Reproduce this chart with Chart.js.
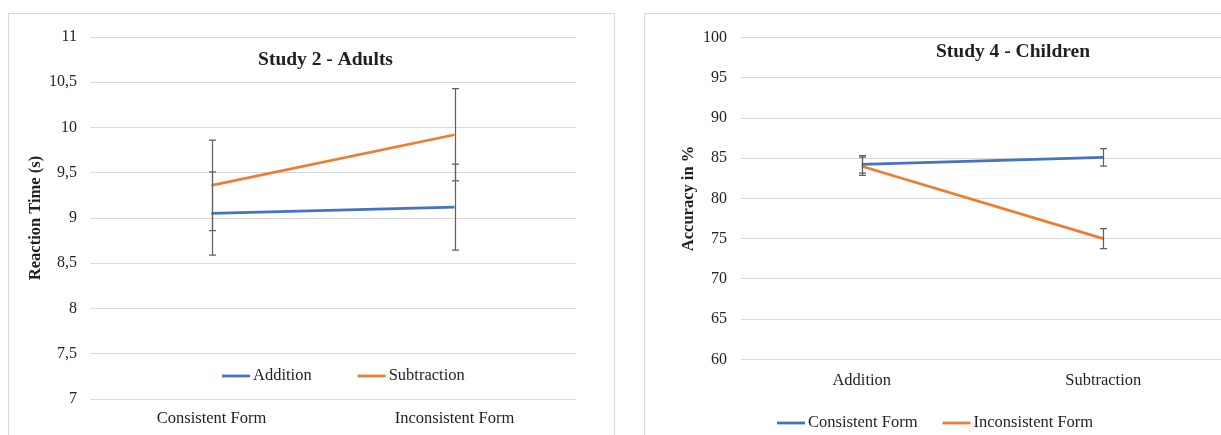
<!DOCTYPE html>
<html>
<head>
<meta charset="utf-8">
<title>Study 2 - Adults / Study 4 - Children</title>
<script src="https://cdn.jsdelivr.net/npm/chart.js@4/dist/chart.umd.min.js"></script>
<style>
  html, body { margin: 0; padding: 0; background: #fff; overflow: hidden; width: 1221px; height: 435px; }
  .panel { position: absolute; border: 1px solid #d9d9d9; background: #fff; }
  #p1 { left: 8px; top: 13px; width: 605px; height: 440px; }
  #p2 { left: 644px; top: 13px; width: 640px; height: 440px; }
  canvas { position: absolute; }
  #c1 { left: 9px; top: 14px; }
  #c2 { left: 645px; top: 14px; }
</style>
</head>
<body>
<div class="panel" id="p1"></div>
<div class="panel" id="p2"></div>
<canvas id="c1" width="604" height="421"></canvas>
<canvas id="c2" width="640" height="421"></canvas>
<script>
// Study 2 (adults): mean reaction time in seconds, with error half-widths
const adultForms = ['Consistent Form', 'Inconsistent Form'];
const adultAddition = [9.05, 9.12];
const adultAdditionErr = [0.46, 0.475];
const adultSubtraction = [9.36, 9.92];
const adultSubtractionErr = [0.50, 0.51];
const adultTicks = [7, 7.5, 8, 8.5, 9, 9.5, 10, 10.5, 11];

// Study 4 (children): accuracy in percent, with error half-widths
const childOperations = ['Addition', 'Subtraction'];
const childConsistent = [84.24, 85.1];
const childConsistentErr = [1.09, 1.09];
const childInconsistent = [84.0, 75.0];
const childInconsistentErr = [1.13, 1.25];
const childTicks = [60, 65, 70, 75, 80, 85, 90, 95, 100];

const BLUE = '#4472c4';
const ORANGE = '#ed7d31';
const SERIF = "'Liberation Serif', 'Times New Roman', serif";
const INK = '#1f1f1f';
const GRID = '#d9d9d9';

// Vertical error bars with caps, drawn from each dataset's `errors` array
const errorBars = {
  id: 'errorBars',
  afterDatasetsDraw(chart) {
    const { ctx } = chart;
    const yScale = chart.scales.y;
    ctx.save();
    ctx.strokeStyle = '#5f5f5f';
    ctx.lineWidth = 1.2;
    chart.data.datasets.forEach((ds, i) => {
      if (!ds.errors) return;
      chart.getDatasetMeta(i).data.forEach((pt, j) => {
        const v = ds.data[j], e = ds.errors[j];
        const x = Math.round(pt.x) + 0.5;
        const top = yScale.getPixelForValue(v + e);
        const bot = yScale.getPixelForValue(v - e);
        const w = 3.5;
        ctx.beginPath();
        ctx.moveTo(x, top); ctx.lineTo(x, bot);
        ctx.moveTo(x - w, top); ctx.lineTo(x + w, top);
        ctx.moveTo(x - w, bot); ctx.lineTo(x + w, bot);
        ctx.stroke();
      });
    });
    ctx.restore();
  }
};

// Chart title and line legend placed freely on the canvas
const panelText = {
  id: 'panelText',
  afterDraw(chart, args, opts) {
    const { ctx } = chart;
    ctx.save();
    ctx.fillStyle = INK;
    ctx.textBaseline = 'middle';
    ctx.textAlign = 'center';
    ctx.font = opts.titleFont;
    ctx.fillText(opts.title, opts.titleX, opts.titleY);
    ctx.textAlign = 'left';
    ctx.font = opts.legendFont;
    let x = opts.legendX;
    chart.data.datasets.forEach(ds => {
      ctx.strokeStyle = ds.borderColor;
      ctx.lineWidth = ds.borderWidth;
      ctx.beginPath();
      ctx.moveTo(x, opts.legendY);
      ctx.lineTo(x + opts.lineLen, opts.legendY);
      ctx.stroke();
      x += opts.lineLen + opts.textGap;
      ctx.fillText(ds.label, x, opts.legendY);
      x += ctx.measureText(ds.label).width + opts.itemGap;
    });
    ctx.restore();
  }
};

function lineSet(label, data, errors, color) {
  return {
    label, data, errors,
    borderColor: color, backgroundColor: color,
    borderWidth: 2.75, pointRadius: 0, pointHoverRadius: 0,
    tension: 0, fill: false
  };
}

function makeChart(id, cfg) {
  return new Chart(document.getElementById(id), {
    type: 'line',
    data: { labels: cfg.labels, datasets: cfg.datasets },
    plugins: [errorBars, panelText],
    options: {
      responsive: false,
      animation: false,
      events: [],
      layout: { padding: cfg.padding },
      plugins: {
        legend: { display: false },
        tooltip: { enabled: false },
        title: { display: false },
        panelText: cfg.text
      },
      scales: {
        x: {
          offset: true,
          grid: { display: false, drawTicks: false },
          border: { display: false },
          ticks: {
            padding: cfg.xPad, color: INK, maxRotation: 0, autoSkip: false,
            font: { family: SERIF, size: 16.5 }
          },
          afterFit: s => { s.height = cfg.xHeight; }
        },
        y: {
          min: cfg.ticks[0],
          max: cfg.ticks[cfg.ticks.length - 1],
          afterBuildTicks: s => { s.ticks = cfg.ticks.map(v => ({ value: v })); },
          grid: { color: GRID, lineWidth: 1, drawTicks: false },
          border: { display: false },
          ticks: {
            padding: cfg.yPad, color: INK,
            font: { family: SERIF, size: 16 },
            callback: v => String(v).replace('.', ',')
          },
          title: {
            display: true, text: cfg.yTitle, color: INK,
            font: { family: SERIF, size: 16.5, weight: 'bold' },
            padding: { top: cfg.yTitlePad, bottom: 0 }
          },
          afterFit: s => { s.width = cfg.yWidth; }
        }
      }
    }
  });
}

makeChart('c1', {
  labels: adultForms,
  datasets: [
    lineSet('Addition', adultAddition, adultAdditionErr, BLUE),
    lineSet('Subtraction', adultSubtraction, adultSubtractionErr, ORANGE)
  ],
  ticks: adultTicks,
  padding: { left: 0, top: 23, right: 37, bottom: 0 },
  yWidth: 81, yPad: 13, yTitle: 'Reaction Time (s)', yTitlePad: 17,
  xHeight: 36, xPad: 10,
  text: {
    title: 'Study 2 - Adults', titleX: 316.5, titleY: 46,
    titleFont: 'bold 19.5px ' + SERIF,
    legendFont: '16.5px ' + SERIF,
    legendX: 213, legendY: 362, lineLen: 28, textGap: 3, itemGap: 46
  }
});

makeChart('c2', {
  labels: childOperations,
  datasets: [
    lineSet('Consistent Form', childConsistent, childConsistentErr, BLUE),
    lineSet('Inconsistent Form', childInconsistent, childInconsistentErr, ORANGE)
  ],
  ticks: childTicks,
  padding: { left: 0, top: 16, right: 61, bottom: 0 },
  yWidth: 96, yPad: 14, yTitle: 'Accuracy in %', yTitlePad: 33.4,
  xHeight: 75.7, xPad: 11,
  text: {
    title: 'Study 4 - Children', titleX: 368, titleY: 37.7,
    titleFont: 'bold 19.5px ' + SERIF,
    legendFont: '16.5px ' + SERIF,
    legendX: 132, legendY: 409, lineLen: 28, textGap: 3, itemGap: 25
  }
});
</script>
</body>
</html>
